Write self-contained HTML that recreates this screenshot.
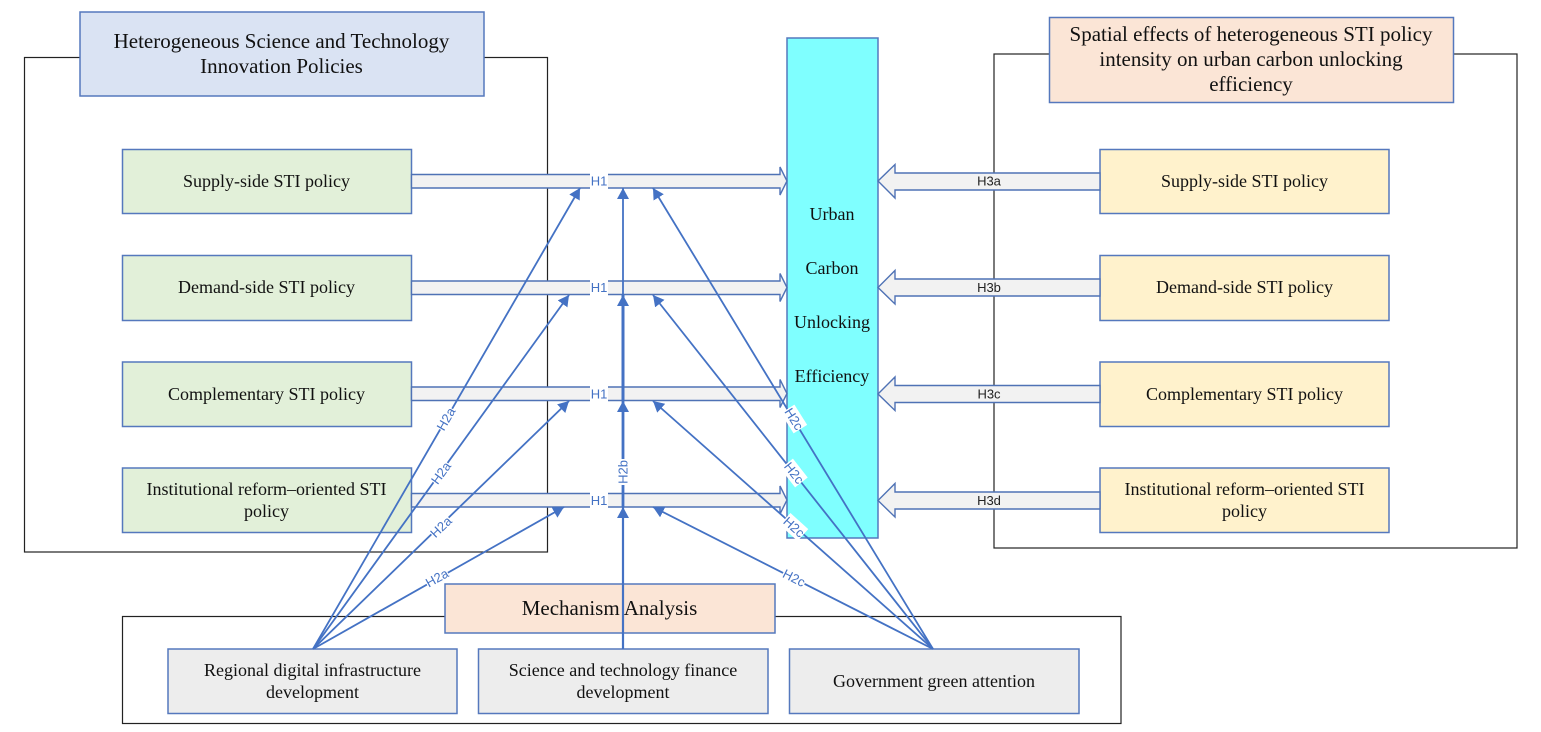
<!DOCTYPE html>
<html><head><meta charset="utf-8"><style>
html,body{margin:0;padding:0;background:#fff;width:1541px;height:732px;overflow:hidden}
svg{display:block}
text{font-family:"Liberation Serif",serif;fill:#111;text-anchor:middle}
.b{stroke:#5578bd;stroke-width:1.5}
.f{fill:none;stroke:#222;stroke-width:1.2}
.ar{fill:#f2f2f2;stroke:#4f72b5;stroke-width:1.4}
.l{stroke:#4472c4;stroke-width:1.8}
.s{font-size:18px}
.t{font-size:21px}
.lab{font-family:"Liberation Sans",sans-serif;font-size:13px;fill:#4472c4}
.h3{font-family:"Liberation Sans",sans-serif;font-size:13px;fill:#222}
</style></head><body>
<svg width="1541" height="732" viewBox="0 0 1541 732" xmlns="http://www.w3.org/2000/svg">
<defs>
<marker id="a" markerUnits="userSpaceOnUse" markerWidth="12" markerHeight="12" refX="11" refY="6" orient="auto"><polygon points="0,0 11,6 0,12" fill="#4472c4"/></marker>
</defs>
<rect width="1541" height="732" fill="#fff"/>
<rect class="f" x="24.5" y="57.5" width="523" height="494.5"/>
<rect class="f" x="994" y="54" width="523" height="494"/>
<rect class="f" x="122.5" y="616.5" width="998.5" height="107"/>

<rect class="b" x="80" y="12" width="404" height="84" fill="#dae3f3"/>
<text class="t" x="281.500" y="48">Heterogeneous Science and Technology</text>
<text class="t" x="281.500" y="73">Innovation Policies</text>
<rect class="b" x="1049.500" y="17.500" width="404" height="85" fill="#fbe5d6"/>
<text class="t" x="1251" y="41">Spatial effects of heterogeneous STI policy</text>
<text class="t" x="1251" y="66">intensity on urban carbon unlocking</text>
<text class="t" x="1251" y="91">efficiency</text>

<rect class="b" x="787" y="38" width="91" height="500" fill="#7fffff"/>
<text class="s" x="832" y="220">Urban</text>
<text class="s" x="832" y="274">Carbon</text>
<text class="s" x="832" y="328">Unlocking</text>
<text class="s" x="832" y="382">Efficiency</text>

<g fill="#e2f0d9">
<rect class="b" x="122.500" y="149.500" width="289" height="64"/>
<rect class="b" x="122.500" y="255.500" width="289" height="65"/>
<rect class="b" x="122.500" y="362" width="289" height="64.500"/>
<rect class="b" x="122.500" y="468" width="289" height="64.500"/>
</g>
<text class="s" x="266.500" y="187">Supply-side STI policy</text>
<text class="s" x="266.500" y="293">Demand-side STI policy</text>
<text class="s" x="266.500" y="400">Complementary STI policy</text>
<text class="s" x="266.500" y="495">Institutional reform–oriented STI</text>
<text class="s" x="266.500" y="517">policy</text>

<g fill="#fff2cc">
<rect class="b" x="1100" y="149.500" width="289" height="64"/>
<rect class="b" x="1100" y="255.500" width="289" height="65"/>
<rect class="b" x="1100" y="362" width="289" height="64.500"/>
<rect class="b" x="1100" y="468" width="289" height="64.500"/>
</g>
<text class="s" x="1244.500" y="187">Supply-side STI policy</text>
<text class="s" x="1244.500" y="293">Demand-side STI policy</text>
<text class="s" x="1244.500" y="400">Complementary STI policy</text>
<text class="s" x="1244.500" y="495">Institutional reform–oriented STI</text>
<text class="s" x="1244.500" y="517">policy</text>

<path class="ar" d="M411.500 174.500H780V167L787 181L780 195V188H411.500Z"/>
<path class="ar" d="M411.500 281H780V273.500L787 287.500L780 301.500V294.500H411.500Z"/>
<path class="ar" d="M411.500 387H780V379.500L787 393.500L780 407.500V400.500H411.500Z"/>
<path class="ar" d="M411.500 493.500H780V486L787 500L780 514V507H411.500Z"/>
<g fill="#fff"><rect x="590" y="172" width="18" height="18"/><rect x="590" y="278" width="18" height="18"/><rect x="590" y="385" width="18" height="18"/><rect x="590" y="491" width="18" height="18"/></g>
<text class="lab" x="599" y="185.500">H1</text>
<text class="lab" x="599" y="292">H1</text>
<text class="lab" x="599" y="398.500">H1</text>
<text class="lab" x="599" y="505">H1</text>

<path class="ar" d="M1100 173H895V164.500L878 181L895 198V190H1100Z"/>
<path class="ar" d="M1100 279H895V270.500L878 287.500L895 304V296H1100Z"/>
<path class="ar" d="M1100 385.500H895V377L878 394L895 410.500V402.500H1100Z"/>
<path class="ar" d="M1100 492H895V483.500L878 500.500L895 517V509H1100Z"/>
<text class="h3" x="989" y="185.500">H3a</text>
<text class="h3" x="989" y="292">H3b</text>
<text class="h3" x="989" y="398.500">H3c</text>
<text class="h3" x="989" y="505">H3d</text>

<rect class="b" x="445" y="584" width="330" height="49" fill="#fbe5d6"/>
<text class="t" x="609.500" y="615">Mechanism Analysis</text>
<g fill="#ededed">
<rect class="b" x="168" y="649" width="289" height="64.500"/>
<rect class="b" x="478.500" y="649" width="289.500" height="64.500"/>
<rect class="b" x="789.500" y="649" width="289.500" height="64.500"/>
</g>
<text class="s" x="312.500" y="676">Regional digital infrastructure</text>
<text class="s" x="312.500" y="698">development</text>
<text class="s" x="623" y="676">Science and technology finance</text>
<text class="s" x="623" y="698">development</text>
<text class="s" x="934" y="687">Government green attention</text>

<g class="l">
<line x1="313" y1="649" x2="580" y2="188" marker-end="url(#a)"/>
<line x1="313" y1="649" x2="569" y2="295" marker-end="url(#a)"/>
<line x1="313" y1="649" x2="569" y2="401" marker-end="url(#a)"/>
<line x1="313" y1="649" x2="564" y2="507" marker-end="url(#a)"/>
<line x1="623" y1="649" x2="623" y2="188" marker-end="url(#a)"/>
<line x1="623" y1="649" x2="623" y2="507" stroke-width="2.2" marker-end="url(#a)"/>
<line x1="623" y1="507" x2="623" y2="401" stroke-width="2.8" marker-end="url(#a)"/>
<line x1="623" y1="401" x2="623" y2="295" stroke-width="3" marker-end="url(#a)"/>
<line x1="933" y1="649" x2="653" y2="188" marker-end="url(#a)"/>
<line x1="933" y1="649" x2="653" y2="295" marker-end="url(#a)"/>
<line x1="933" y1="649" x2="653" y2="401" marker-end="url(#a)"/>
<line x1="933" y1="649" x2="653" y2="507" marker-end="url(#a)"/>
</g>

<g transform="translate(446 419) rotate(-60)"><rect x="-12" y="-8" width="24" height="16" fill="#fff"/><text class="lab" y="4.500">H2a</text></g>
<g transform="translate(441 473) rotate(-54)"><rect x="-12" y="-8" width="24" height="16" fill="#fff"/><text class="lab" y="4.500">H2a</text></g>
<g transform="translate(441 527) rotate(-44)"><rect x="-12" y="-8" width="24" height="16" fill="#fff"/><text class="lab" y="4.500">H2a</text></g>
<g transform="translate(437 578) rotate(-29)"><rect x="-12" y="-8" width="24" height="16" fill="#fff"/><text class="lab" y="4.500">H2a</text></g>
<g transform="translate(623 472) rotate(-90)"><rect x="-13" y="-8" width="26" height="16" fill="#fff"/><text class="lab" y="4.500">H2b</text></g>
<g transform="translate(794 419) rotate(58)"><rect x="-12" y="-8" width="24" height="16" fill="#fff"/><text class="lab" y="4.500">H2c</text></g>
<g transform="translate(794 473) rotate(52)"><rect x="-12" y="-8" width="24" height="16" fill="#fff"/><text class="lab" y="4.500">H2c</text></g>
<g transform="translate(794 527) rotate(42)"><rect x="-12" y="-8" width="24" height="16" fill="#fff"/><text class="lab" y="4.500">H2c</text></g>
<g transform="translate(794 578) rotate(27)"><rect x="-12" y="-8" width="24" height="16" fill="#fff"/><text class="lab" y="4.500">H2c</text></g>
</svg>
</body></html>
